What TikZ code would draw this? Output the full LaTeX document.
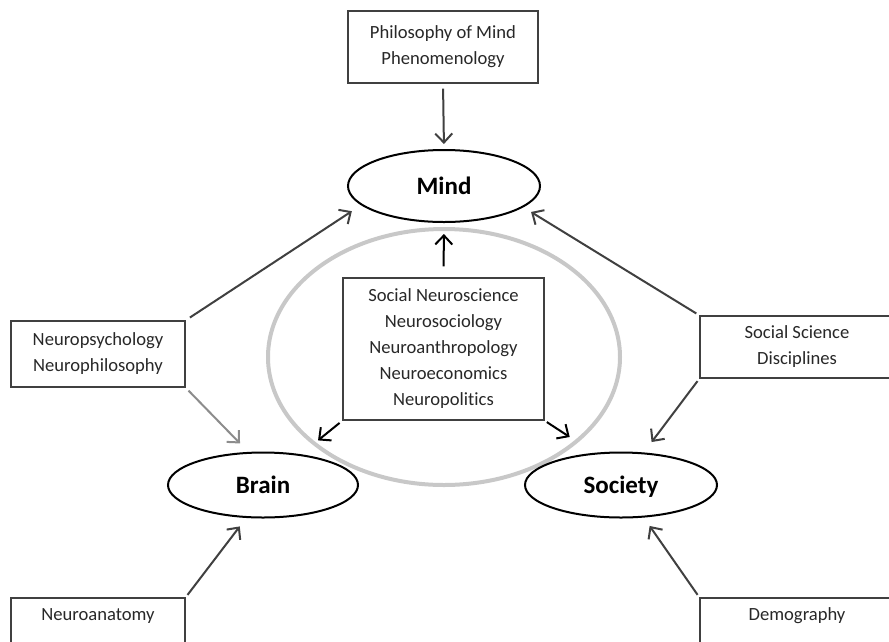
\documentclass[tikz,border=0pt]{standalone}
\usepackage{fontspec}
\setmainfont[Ligatures=NoCommon]{Carlito}
\usetikzlibrary{shapes.geometric,arrows.meta}
\definecolor{boxline}{HTML}{404040}
\definecolor{txt}{HTML}{282828}
\definecolor{arrowdark}{HTML}{404040}
\definecolor{arrowgray}{HTML}{8C8C8C}
\definecolor{ringgray}{HTML}{C8C8C8}
\begin{document}
\begin{tikzpicture}[x=1pt,y=-1pt,
  labelbox/.style={rectangle, draw=boxline, line width=1.4pt, fill=white,
    align=center, text=txt, font=\fontsize{18.6}{26}\selectfont, inner sep=0pt},
  hub/.style={ellipse, draw=black, line width=2pt, minimum width=192pt,
    minimum height=68pt, inner sep=0pt, text=black, text height=16pt, text depth=0pt,
    font=\fontsize{25}{28}\selectfont\bfseries},
  tipbarb/.style={-{Straight Barb[length=9pt,width=17pt]}},
  link/.style={draw=arrowdark, line width=2pt, tipbarb},
  softlink/.style={draw=arrowgray, line width=2pt, tipbarb},
  corelink/.style={draw=black, line width=2pt, tipbarb}
]
\useasboundingbox (0,0) rectangle (889,641);

% background ring around the interdisciplinary fields
\node[ellipse, draw=ringgray, line width=4pt, minimum width=352pt,
  minimum height=256pt, inner sep=0pt] (ring) at (444,357) {};

% three domains
\node[hub, minimum height=72pt] (mind) at (444,186) {Mind};
\node[hub, minimum width=190pt, minimum height=65pt] (brain) at (263,485) {Brain};
\node[hub, minimum width=192pt, minimum height=65pt] (society) at (621,485) {Society};

% disciplines
\node[labelbox, minimum width=190pt, minimum height=72pt] (phil) at (443,47)
  {Philosophy of Mind\\Phenomenology};
\node[labelbox, minimum width=174pt, minimum height=66pt] (nps) at (98,354)
  {Neuropsychology\\Neurophilosophy};
\node[labelbox, minimum width=194pt, minimum height=62pt] (ssd) at (797,347)
  {Social Science\\Disciplines};
\node[labelbox, minimum width=201pt, minimum height=142pt] (soc) at (443.5,349)
  {Social Neuroscience\\Neurosociology\\Neuroanthropology\\Neuroeconomics\\Neuropolitics};
\node[labelbox, minimum width=174pt, minimum height=66pt] (anat) at (98,631)
  {Neuroanatomy\\\strut};
\node[labelbox, minimum width=194pt, minimum height=66pt] (demog) at (797,631)
  {Demography\\\strut};

% connectors into Mind
\draw[link, shorten <=5pt, shorten >=5pt] (phil.south) -- (mind.north);
\draw[link, shorten <=5pt, shorten >=11pt] (nps.north east) -- (mind.193.5);
\draw[link, shorten <=3.5pt, shorten >=9pt] (ssd.north west) -- (mind.-15.5);

% connectors into Brain
\draw[softlink, shorten <=4pt, shorten >=11.8pt] (nps.south east) -- (brain.114);
\draw[link, shorten <=3pt, shorten >=10.6pt] (anat.north east) -- (brain.243);

% connectors into Society
\draw[link, shorten <=3pt, shorten >=13pt] (ssd.south west) -- (society.55);
\draw[link, shorten <=3pt, shorten >=10.2pt] (demog.north west) -- (society.305);

% connectors out of the interdisciplinary fields
\draw[corelink, shorten <=11pt, shorten >=11pt] (soc.north) -- (mind.south);
\draw[corelink, shorten <=3.5pt, shorten >=22pt] (soc.south west) -- (brain);
\draw[corelink, shorten <=2.5pt, shorten >=29pt] (soc.south east) -- (society.130);
\end{tikzpicture}
\end{document}
